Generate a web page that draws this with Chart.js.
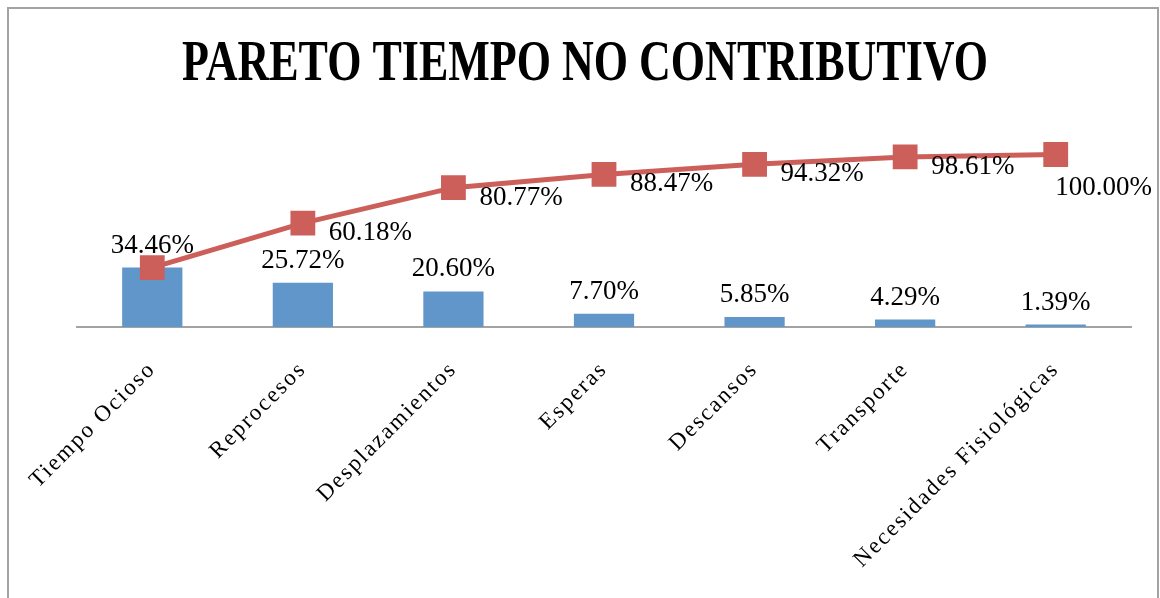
<!DOCTYPE html>
<html>
<head>
<meta charset="utf-8">
<script src="https://cdn.jsdelivr.net/npm/chart.js@4"></script>
<style>
  html, body { margin: 0; padding: 0; background: #fff; }
  #frame { position: absolute; left: 7px; top: 7px; width: 1148px; height: 640px; border: 2px solid #a3a3a3; }
  #wrap { position: absolute; left: 0; top: 0; width: 1160px; height: 598px; }
</style>
</head>
<body>
<div id="frame"></div>
<div id="wrap"><canvas id="paretoChart" width="1160" height="598"></canvas></div>
<script>
const categories = ['Tiempo Ocioso', 'Reprocesos', 'Desplazamientos', 'Esperas', 'Descansos', 'Transporte', 'Necesidades Fisiológicas'];
const percentValues = [34.46, 25.72, 20.60, 7.70, 5.85, 4.29, 1.39];
const cumulativeValues = [34.46, 60.18, 80.77, 88.47, 94.32, 98.61, 100.00];
const chartTitle = 'PARETO TIEMPO NO CONTRIBUTIVO';

const serif = "'Liberation Serif', 'DejaVu Serif', serif";

// letter spacing for the axis labels, title and value labels drawn by hand
const paretoPlugin = {
    id: 'paretoPlugin',
    beforeDraw(chart) {
        chart.ctx.letterSpacing = '2px';
    },
    beforeDatasetsDraw(chart) {
        chart.ctx.letterSpacing = '0px';
    },
    afterDraw(chart) {
        const ctx = chart.ctx;
        ctx.save();
        ctx.letterSpacing = '0px';

        // title
        ctx.font = 'bold 56px ' + serif;
        ctx.fillStyle = '#000';
        ctx.textAlign = 'left';
        ctx.textBaseline = 'alphabetic';
        const w = ctx.measureText(chartTitle).width;
        const targetW = 806;
        ctx.translate(585 - targetW / 2, 80);
        ctx.scale(targetW / w, 1);
        ctx.fillText(chartTitle, 0, 0);
        ctx.setTransform(1, 0, 0, 1, 0, 0);

        ctx.font = '27px ' + serif;

        // bar labels
        const barMeta = chart.getDatasetMeta(0);
        ctx.textAlign = 'center';
        barMeta.data.forEach((bar, i) => {
            ctx.fillText(percentValues[i].toFixed(2) + '%', bar.x, bar.y - 15);
        });

        // line labels (first point shares the bar label)
        const lineMeta = chart.getDatasetMeta(1);
        ctx.textAlign = 'left';
        lineMeta.data.forEach((pt, i) => {
            if (i === 0) return;
            const txt = cumulativeValues[i].toFixed(2) + '%';
            const tw = ctx.measureText(txt).width;
            let x = pt.x + 26;
            let y = pt.y + 17;
            if (x + tw > 1152) {
                x = 1152 - tw;
                y = pt.y + 40;
            }
            ctx.fillText(txt, x, y);
        });
        ctx.restore();
    }
};

const ctx = document.getElementById('paretoChart').getContext('2d');
new Chart(ctx, {
    type: 'bar',
    data: {
        labels: categories,
        datasets: [{
            type: 'bar',
            label: 'Porcentaje',
            data: percentValues,
            backgroundColor: '#6096c9',
            barPercentage: 0.4,
            categoryPercentage: 1.0,
            order: 2
        }, {
            type: 'line',
            label: 'Acumulado',
            data: cumulativeValues,
            borderColor: '#cd5f5a',
            backgroundColor: '#cd5f5a',
            borderWidth: 5,
            pointStyle: 'rect',
            pointRadius: 14,
            pointHoverRadius: 14,
            tension: 0,
            clip: false,
            order: 1
        }]
    },
    options: {
        responsive: false,
        animation: false,
        events: [],
        layout: {
            padding: { top: 120, left: 77, right: 29, bottom: 0 }
        },
        plugins: {
            legend: { display: false },
            title: { display: false },
            tooltip: { enabled: false }
        },
        scales: {
            x: {
                grid: { display: false, drawTicks: false },
                border: { display: true, color: '#a3a3a3', width: 2 },
                ticks: {
                    color: '#000',
                    font: { family: serif, size: 23 },
                    minRotation: 45,
                    maxRotation: 45,
                    padding: 29
                },
                afterFit(scale) {
                    scale.height = 271;
                }
            },
            y: {
                display: false,
                min: 0,
                max: 120
            }
        }
    },
    plugins: [paretoPlugin]
});
</script>
</body>
</html>
